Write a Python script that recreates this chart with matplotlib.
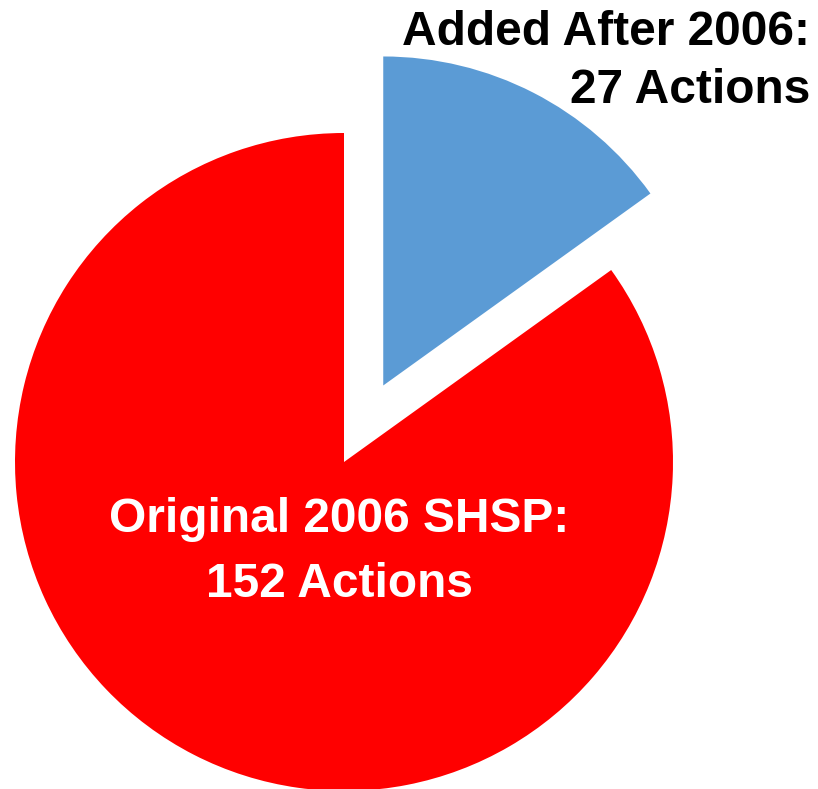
import matplotlib.pyplot as plt

labels = ["Added After 2006:\n27 Actions", "Original 2006 SHSP:\n152 Actions"]
actions = [27, 152]
colors = ["#5B9BD5", "#FF0000"]
explode = [86, 0]  # pie offsets in data units here

plt.rcParams["font.family"] = ["Liberation Sans", "DejaVu Sans"]

fig = plt.figure(figsize=(8.18, 7.89), dpi=100)
ax = fig.add_axes([0, 0, 1, 1])

H = 789
# pie placed in pixel-like coords (y up)
ax.pie(actions, colors=colors, explode=explode, startangle=90,
       counterclock=False, radius=329, center=(344, H - 462),
       wedgeprops=dict(linewidth=0))

# one text per line, placed on its baseline
top = labels[0].split("\n")
for line, yb in zip(top, [45, 103]):
    ax.text(810, H - yb, line, ha="right", va="baseline", fontsize=34.5,
            fontweight="bold", color="black")
mid = labels[1].split("\n")
for line, yb in zip(mid, [532, 597]):
    ax.text(339, H - yb, line, ha="center", va="baseline", fontsize=34.5,
            fontweight="bold", color="white")

ax.set_xlim(0, 818)
ax.set_ylim(0, H)
ax.set_aspect("equal")
ax.axis("off")

fig.savefig("out.png", dpi=100)
